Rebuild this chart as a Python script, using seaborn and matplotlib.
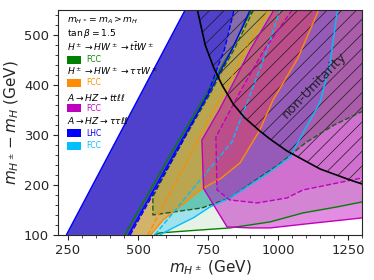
import numpy as np
import pandas as pd
import matplotlib
matplotlib.use("Agg")
import matplotlib.pyplot as plt
from matplotlib.patches import Rectangle
from matplotlib.ticker import AutoMinorLocator
import seaborn as sns

# contour points (m_H+ in GeV, m_H+ - m_H in GeV)
lhc_left_x = [244, 668]
lhc_left_y = [100, 550]
lhc_solid_x = [466, 560, 657, 750, 810, 835, 900]
lhc_solid_y = [100, 194, 290, 380, 444, 470, 550]
lhc_dash_x = [472, 566, 662, 748, 790, 808, 843]
lhc_dash_y = [100, 194, 290, 380, 444, 470, 550]

ttw_left_x = [905, 833, 805, 742, 646, 548, 452]
ttw_left_y = [550, 470, 444, 380, 290, 194, 100]
ttw_bot_x = [560, 578, 700, 828, 971, 1089, 1210, 1300]
ttw_bot_y = [100, 104, 109, 114, 126, 144, 156, 166]
ttw_dash_x = [912, 842, 815, 755, 662, 575, 553, 553, 728, 828, 910, 1000, 1100, 1200, 1300]
ttw_dash_y = [550, 470, 444, 380, 290, 200, 176, 140, 154, 174, 206, 240, 285, 320, 347]

tautauw_x = [545, 590, 728, 793, 864, 935, 982, 1071, 1145]
tautauw_y = [100, 130, 192, 212, 244, 310, 370, 454, 550]
tautauw_dash_x = [535, 620, 714, 770, 825, 890, 965]
tautauw_dash_y = [100, 190, 290, 350, 404, 480, 550]

ttll_x = [985, 900, 840, 790, 728, 734, 818, 900, 971, 1100, 1300]
ttll_y = [550, 470, 404, 350, 290, 193, 116, 114, 114, 122, 134]
ttll_dash_x = [1050, 950, 864, 778, 782, 828, 925, 1032, 1089, 1300]
ttll_dash_y = [550, 470, 386, 296, 190, 170, 164, 174, 190, 214]

tautaull_x = [578, 625, 700, 757, 828, 900, 971, 1043, 1089, 1121, 1150, 1185, 1212]
tautaull_y = [100, 114, 135, 156, 174, 200, 226, 256, 304, 336, 366, 440, 550]
tautaull_dash_x = [560, 700, 835, 900, 960, 1007]
tautaull_dash_y = [100, 195, 286, 380, 470, 550]

unit_x = [712, 740, 770, 800, 840, 880, 935, 971, 1032, 1150, 1257, 1300]
unit_y = [550, 480, 435, 400, 362, 335, 308, 292, 268, 232, 210, 202]

XMIN, XMAX, YMIN, YMAX = 214, 1300, 100, 550

# render at 88 dpi so the hatch spacing matches; K keeps point sizes as at 100 dpi
DPI = 88
K = 100 / DPI

sns.set_style("ticks")
plt.rcParams["hatch.linewidth"] = 0.5 * K
plt.rcParams["axes.linewidth"] = 0.8 * K

fig, ax = plt.subplots(figsize=(374 / DPI, 280 / DPI), dpi=DPI)
fig.subplots_adjust(left=0.155, right=0.968, bottom=0.161, top=0.964)


def line(x, y, color, ls="-", lw=1.0):
    sns.lineplot(x=x, y=y, sort=False, estimator=None, color=color,
                 linestyle=ls, linewidth=lw * K, ax=ax)


# filled regions, bottom to top
ax.fill(ttw_left_x + ttw_bot_x + [XMAX], ttw_left_y + ttw_bot_y + [YMAX],
        color="green", alpha=0.1, lw=0)
ax.fill(ttw_dash_x + [XMAX], ttw_dash_y + [YMAX], color="green", alpha=0.35, lw=0)
ax.fill(tautaull_x + lhc_left_x[::-1], tautaull_y + lhc_left_y[::-1],
        color="deepskyblue", alpha=0.3, lw=0)
ax.fill(tautauw_x + lhc_left_x[::-1], tautauw_y + lhc_left_y[::-1],
        color="darkorange", alpha=0.55, lw=0)
ax.fill(ttll_x + [XMAX], ttll_y + [YMAX], color="m", alpha=0.45, lw=0)
ax.fill(ttll_dash_x + [XMAX], ttll_dash_y + [YMAX], color="m", alpha=0.15, lw=0)
ax.fill(lhc_left_x + lhc_solid_x[::-1], lhc_left_y + lhc_solid_y[::-1],
        color="blue", alpha=0.4, lw=0)
ax.fill(lhc_left_x + lhc_dash_x[::-1], lhc_left_y + lhc_dash_y[::-1],
        color="blue", alpha=0.4, lw=0)

# contour lines
line(ttw_left_x, ttw_left_y, "green")
line(ttw_bot_x, ttw_bot_y, "green")
line(ttw_dash_x, ttw_dash_y, "#1d5a1d", "--")
line(tautauw_x, tautauw_y, "darkorange")
line(tautauw_dash_x, tautauw_dash_y, "darkorange", "--")
line(tautaull_x, tautaull_y, "deepskyblue")
line(tautaull_dash_x, tautaull_dash_y, "deepskyblue", "--")
line(ttll_x, ttll_y, "m")
line(ttll_dash_x, ttll_dash_y, "m", "--")
line(lhc_left_x, lhc_left_y, "blue")
line(lhc_solid_x, lhc_solid_y, "blue")
line(lhc_dash_x, lhc_dash_y, "blue", "--")

# non-unitarity region
ax.fill(unit_x + [XMAX], unit_y + [YMAX], facecolor="none", edgecolor="#1a1a1a",
        hatch="//", lw=0)
line(unit_x, unit_y, "black", lw=1.2)
ax.text(1128, 400, "non-Unitarity", rotation=46, ha="center", va="center",
        fontsize=9.5 * K, color="#222222")

ax.set_xlim(XMIN, XMAX)
ax.set_ylim(YMIN, YMAX)
ax.set_xticks([250, 500, 750, 1000, 1250])
ax.set_yticks([100, 200, 300, 400, 500])
ax.xaxis.set_minor_locator(AutoMinorLocator(5))
ax.yaxis.set_minor_locator(AutoMinorLocator(5))
ax.tick_params(labelsize=9.5 * K, length=3.5 * K, width=0.8 * K, pad=3 * K)
ax.tick_params(which="minor", length=2 * K, width=0.6 * K)
ax.set_xlabel(r"$m_{H^\pm}$ (GeV)", fontsize=11 * K, labelpad=1 * K)
ax.set_ylabel(r"$m_{H^\pm} - m_H$ (GeV)", fontsize=11 * K, labelpad=2 * K)

# legend block (top left)
headers = [
    (0.953, r"$m_{H^\pm}=m_A>m_H$"),
    (0.895, r"$\tan\beta=1.5$"),
    (0.838, r"$H^\pm\to HW^\pm\to t\bar{t}W^\pm$"),
    (0.729, r"$H^\pm\to HW^\pm\to\tau\tau W^\pm$"),
    (0.613, r"$A\to HZ\to tt\ell\ell$"),
    (0.507, r"$A\to HZ\to\tau\tau\ell\ell$"),
]
for fy, s in headers:
    ax.text(0.030, fy, s, transform=ax.transAxes, fontsize=6.6 * K, va="center",
            ha="left", color="black")

entries = [
    (0.778, "green", "FCC"),
    (0.676, "darkorange", "FCC"),
    (0.564, "m", "FCC"),
    (0.453, "blue", "LHC"),
    (0.396, "deepskyblue", "FCC"),
]
for fy, c, s in entries:
    ax.add_patch(Rectangle((0.030, fy - 0.018), 0.046, 0.036, transform=ax.transAxes,
                           facecolor=c, edgecolor="none"))
    ax.text(0.092, fy, s, transform=ax.transAxes, fontsize=5.5 * K, va="center",
            ha="left", color=c)

plt.savefig("out.png", dpi=DPI)
plt.close()
